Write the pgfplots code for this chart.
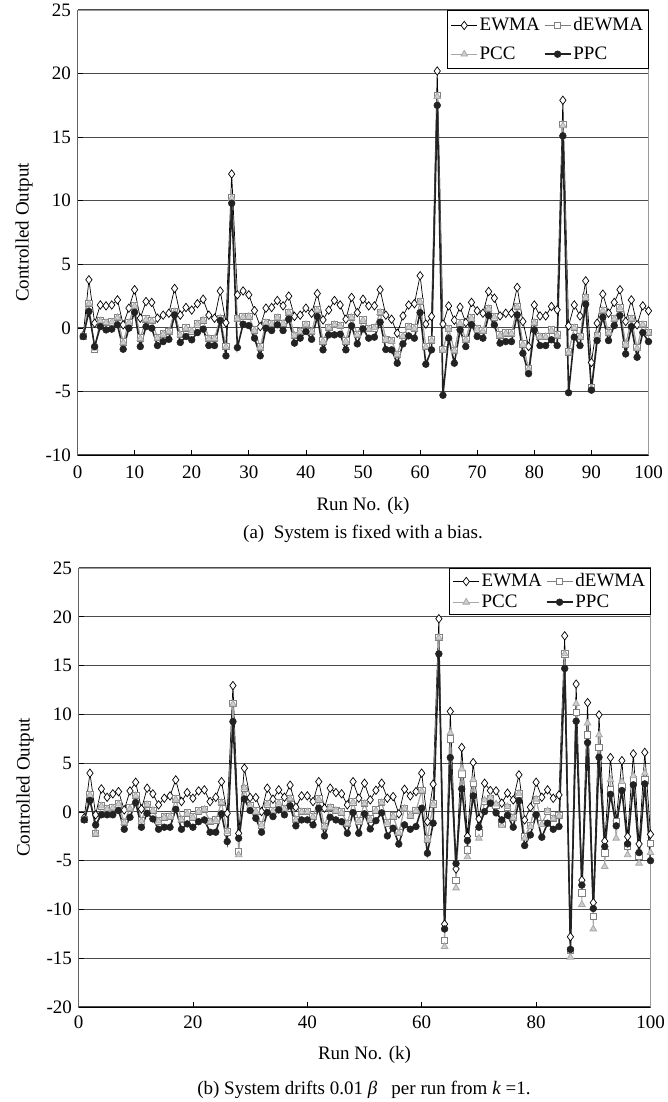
\documentclass[border=0pt]{standalone}
\usepackage{fontspec}
\setmainfont{Liberation Serif}
\usepackage{pgfplots}
\usepackage{pgfplotstable}
\pgfplotsset{compat=1.18}
\definecolor{gridc}{HTML}{4A4A4A}
\definecolor{boxc}{HTML}{9A9A9A}
\definecolor{dcol}{HTML}{808080}
\definecolor{tcol}{HTML}{A8A8A8}
\definecolor{tfill}{HTML}{CFCFCF}
\definecolor{pcol}{HTML}{222222}

\pgfplotstableread{
k E D T P
1 -0.60 -0.66 -0.66 -0.68
2 3.78 1.94 1.90 1.29
3 0.37 -1.68 -1.60 -1.47
4 1.80 0.61 0.55 0.10
5 1.73 0.41 0.41 -0.16
6 1.80 0.47 0.45 -0.10
7 2.20 0.83 0.80 0.24
8 0.24 -1.10 -1.15 -1.68
9 1.55 0.44 0.40 -0.03
10 3.00 1.76 1.70 1.23
11 0.76 -0.80 -0.85 -1.47
12 2.07 0.69 0.65 0.10
13 2.00 0.58 0.55 -0.03
14 0.76 -0.75 -0.80 -1.39
15 1.00 -0.46 -0.50 -1.08
16 1.15 -0.29 -0.30 -0.90
17 3.10 1.29 1.25 1.02
18 1.00 -0.51 -0.55 -1.15
19 1.60 0.00 -0.05 -0.68
20 1.40 -0.24 -0.25 -0.94
21 1.90 0.31 0.30 -0.37
22 2.25 0.61 0.60 -0.10
23 1.00 -0.81 -0.85 -1.39
24 0.76 -0.81 -0.85 -1.39
25 2.90 0.76 0.75 0.58
26 0.40 -1.47 -1.50 -2.20
27 12.10 10.25 10.20 9.80
28 2.60 0.76 0.70 -1.55
29 2.90 0.89 0.85 0.29
30 2.60 0.91 0.90 0.18
31 1.36 -0.16 -0.20 -0.81
32 0.10 -1.51 -1.55 -2.20
33 1.55 0.44 0.40 -0.03
34 1.60 0.33 0.30 -0.21
35 2.15 0.81 0.80 0.24
36 1.73 0.37 0.35 -0.21
37 2.50 1.23 1.20 0.68
38 0.90 -0.57 -0.60 -1.20
39 1.00 -0.27 -0.30 -0.81
40 1.55 0.26 0.25 -0.29
41 1.15 -0.29 -0.30 -0.90
42 2.70 1.43 1.40 0.89
43 0.63 -1.02 -1.05 -1.73
44 1.40 0.04 0.00 -0.55
45 2.15 0.26 0.25 -0.55
46 1.80 0.19 0.15 -0.50
47 0.68 -1.01 -1.05 -1.73
48 2.40 0.83 0.80 0.16
49 1.20 -0.52 -0.55 -1.26
50 2.25 0.62 0.60 -0.08
51 1.73 -0.05 -0.10 -0.81
52 1.73 0.01 0.00 -0.73
53 3.00 1.22 1.20 0.45
54 1.00 -0.89 -0.90 -1.70
55 0.68 -1.00 -1.05 -1.73
56 -0.42 -2.07 -2.10 -2.78
57 0.94 -0.60 -0.65 -1.26
58 1.80 0.10 0.05 -0.63
59 1.90 0.00 -0.05 -0.81
60 4.10 2.07 2.05 1.20
61 0.30 -1.47 -1.50 -2.86
62 0.90 -0.94 -1.00 -1.73
63 20.20 18.30 18.20 17.50
64 0.30 -1.70 -1.75 -5.30
65 1.73 -0.05 -0.10 -0.81
66 0.60 -1.77 -1.80 -2.78
67 1.63 0.38 0.35 -0.16
68 0.42 -0.90 -0.95 -1.47
69 2.00 0.77 0.75 0.24
70 1.34 -0.07 -0.10 -0.68
71 1.15 -0.22 -0.25 -0.81
72 2.86 1.54 1.50 0.97
73 2.34 0.87 0.85 0.24
74 0.94 -0.56 -0.60 -1.20
75 1.15 -0.41 -0.45 -1.08
76 1.15 -0.41 -0.45 -1.08
77 3.18 1.67 1.65 1.02
78 0.50 -1.25 -1.30 -2.00
79 -1.47 -3.20 -3.25 -3.60
80 1.80 0.43 0.40 -0.16
81 0.94 -0.69 -0.70 -1.39
82 0.94 -0.69 -0.70 -1.39
83 1.68 -0.15 -0.20 -0.94
84 1.42 -0.55 -0.60 -1.39
85 17.90 16.00 15.90 15.10
86 0.16 -1.90 -1.95 -5.10
87 1.80 0.03 0.00 -0.73
88 0.94 -0.69 -0.70 -1.39
89 3.70 2.41 2.40 1.86
90 -2.73 -4.70 -4.75 -4.90
91 0.37 -0.59 -0.60 -1.00
92 2.65 1.38 1.35 0.84
93 1.15 -0.36 -0.40 -1.00
94 2.00 0.73 0.70 0.18
95 3.00 1.58 1.55 0.97
96 0.50 -1.29 -1.30 -2.05
97 2.20 0.73 0.70 0.10
98 0.24 -1.55 -1.60 -2.31
99 1.73 0.26 0.25 -0.37
100 1.34 -0.35 -0.40 -1.08
}\dataA

\pgfplotstableread{
k E D T P
1 -0.60 -0.74 -0.75 -0.82
2 3.97 1.80 1.75 1.16
3 -0.30 -2.20 -2.25 -1.33
4 2.36 0.63 0.60 -0.30
5 1.50 0.33 0.30 -0.30
6 1.85 0.45 0.40 -0.30
7 2.08 0.82 0.80 0.14
8 0.20 -1.09 -1.10 -1.78
9 2.15 0.40 0.35 -0.55
10 3.04 1.69 1.65 0.96
11 0.30 -0.92 -0.95 -1.57
12 2.43 0.76 0.75 -0.14
13 1.85 0.18 0.15 -0.72
14 0.72 -0.91 -0.95 -1.78
15 1.40 -0.53 -0.55 -1.57
16 1.64 -0.45 -0.50 -1.57
17 3.28 1.32 1.30 0.27
18 1.06 -0.79 -0.80 -1.78
19 1.98 -0.11 -0.15 -1.23
20 1.40 -0.53 -0.55 -1.57
21 2.15 0.10 0.05 -1.00
22 2.26 0.26 0.25 -0.82
23 1.06 -0.98 -1.00 -2.08
24 1.50 -0.83 -0.85 -2.08
25 3.10 0.96 0.95 -0.20
26 -0.14 -2.03 -2.05 -3.04
27 12.95 11.10 11.05 9.26
28 -2.20 -4.07 -4.40 -2.70
29 4.48 2.43 2.45 1.33
30 1.47 0.61 0.60 0.14
31 1.47 0.09 0.05 -0.65
32 0.03 -1.34 -1.35 -2.08
33 2.43 0.81 0.80 -0.07
34 1.30 0.14 0.10 -0.48
35 2.26 0.92 0.90 0.20
36 1.50 0.33 0.30 -0.30
37 2.74 1.36 1.35 0.62
38 0.48 -0.76 -0.80 -1.43
39 1.64 0.04 0.00 -0.82
40 1.64 0.04 0.00 -0.82
41 1.06 -0.49 -0.50 -1.33
42 3.10 1.33 1.30 0.38
43 0.38 -1.47 -1.50 -2.46
44 2.43 0.49 0.45 -0.55
45 1.98 0.16 0.15 -0.82
46 1.85 0.00 -0.05 -1.00
47 0.72 -1.17 -1.20 -2.19
48 3.10 1.04 1.00 -0.07
49 1.40 -0.93 -0.95 -2.19
50 2.94 0.90 0.85 -0.20
51 1.23 -0.71 -0.75 -1.75
52 2.22 0.19 0.15 -0.90
53 2.94 0.96 0.95 -0.10
54 1.40 -1.11 -1.15 -2.46
55 1.57 -0.40 -0.45 -1.67
56 -0.20 -2.10 -2.15 -3.30
57 2.32 0.38 0.35 -1.33
58 1.64 -0.30 -0.35 -1.78
59 2.08 0.14 0.10 -1.50
60 3.97 2.19 2.15 0.38
61 -1.00 -2.77 -2.80 -4.24
62 2.84 0.82 0.80 -1.16
63 19.80 17.90 17.85 16.20
64 -11.50 -13.20 -13.80 -12.00
65 10.30 7.50 8.10 5.57
66 -5.85 -7.00 -7.80 -5.30
67 6.60 3.90 4.40 2.36
68 -2.50 -3.90 -4.60 -2.94
69 5.06 2.90 3.30 1.64
70 -0.72 -2.15 -2.70 -1.57
71 2.94 1.05 1.20 0.03
72 2.19 1.35 1.50 0.90
73 2.15 0.69 0.80 -0.10
74 0.90 -1.30 -1.40 -0.82
75 1.92 0.45 0.55 -0.34
76 1.23 -0.59 -0.60 -1.57
77 3.80 1.85 1.90 1.13
78 -0.82 -2.53 -2.70 -3.45
79 0.48 -1.37 -1.50 -2.36
80 3.04 1.23 1.30 -0.30
81 1.50 -1.17 -1.30 -2.60
82 2.26 0.04 0.10 -1.16
83 1.40 -0.67 -0.70 -1.78
84 1.74 -0.37 -0.40 -1.50
85 18.05 16.20 16.20 14.70
86 -12.80 -14.20 -14.90 -14.10
87 13.10 10.20 11.10 9.30
88 -7.00 -8.30 -9.50 -7.50
89 11.20 7.90 9.10 7.10
90 -9.30 -10.70 -12.00 -9.90
91 9.95 6.60 7.90 5.60
92 -3.00 -4.20 -5.60 -3.55
93 5.57 2.26 3.30 1.80
94 -0.92 -1.00 -2.70 -1.43
95 5.26 2.60 3.10 2.19
96 -2.53 -3.50 -4.40 -3.28
97 5.95 3.30 3.70 2.77
98 -3.28 -4.50 -5.26 -4.17
99 6.10 3.28 3.97 2.87
100 -2.30 -3.20 -4.17 -5.00
}\dataB

\pgfplotsset{
  panel/.style={
    scale only axis,
    xmin=0, xmax=100,
    axis line style={draw=boxc, line width=0.8pt},
    ymajorgrids,
    grid style={draw=gridc, line width=1.1pt},
    tick align=inside,
    xtick pos=bottom, ytick pos=left,
    major tick length=5pt,
    tick style={black, line width=0.7pt},
    /pgf/number format/assume math mode=true,
    ticklabel style={font=\fontsize{19}{22}\selectfont},
    label style={font=\fontsize{19}{22}\selectfont},
    xlabel={Run No. (k)},
    ylabel={Controlled Output},
    legend style={at={(1,1)}, anchor=north east, legend columns=2,
      draw=black, line width=0.9pt, fill=white,
      font=\fontsize{19}{22}\selectfont,
      inner xsep=3pt,
      /tikz/every even column/.append style={column sep=2pt}},
    legend cell align=left,
    legend image code/.code={%
      \draw[mark repeat=2, mark phase=2] plot coordinates {(0pt,0pt) (13pt,0pt) (26pt,0pt)};},
  },
  ewma/.style={draw=black, line width=0.7pt, mark=diamond*, mark size=4.2pt,
    mark options={fill=white, draw=black, line width=0.7pt}},
  dewma/.style={draw=dcol, line width=0.8pt, mark=square*, mark size=3.2pt,
    mark options={fill=white, draw=dcol, line width=0.8pt}},
  pcc/.style={draw=tcol, line width=0.8pt, mark=triangle*, mark size=3.8pt,
    mark options={fill=tfill, draw=tcol, line width=0.8pt}},
  ppc/.style={draw=pcol, line width=1.6pt, mark=*, mark size=3.4pt,
    mark options={fill=pcol, draw=pcol, line width=0.5pt}},
}

\begin{document}
\fontsize{19}{22}\selectfont
\begin{tikzpicture}
\useasboundingbox (0pt,0pt) rectangle (668pt,-1102pt);

\begin{axis}[panel, at={(77.5pt,-455pt)}, anchor=south west,
  width=571pt, height=445pt,
  ymin=-10, ymax=25, ytick={-10,-5,...,25},
  xtick={0,10,...,100},
  xticklabel style={yshift=-4pt},
  xlabel style={yshift=-6pt},
  legend style={row sep=9pt, inner ysep=5pt}]
\addplot[ewma] table[x=k, y=E] {\dataA};
\addplot[dewma] table[x=k, y=D] {\dataA};
\addplot[pcc] table[x=k, y=T] {\dataA};
\addplot[ppc] table[x=k, y=P] {\dataA};
\legend{EWMA, dEWMA, PCC, PPC}
\draw[black, line width=0.9pt] (rel axis cs:0,1) -- (rel axis cs:0,0) -- (rel axis cs:1,0);
\end{axis}
\node[font=\fontsize{19}{22}\selectfont] at (363pt,-534pt) {(a)\ \ System is fixed with a bias.};

\begin{axis}[panel, at={(78.5pt,-1007pt)}, anchor=south west,
  width=572pt, height=439pt,
  ymin=-20, ymax=25, ytick={-20,-15,...,25},
  xtick={0,20,...,100},
  xticklabel style={yshift=-2pt},
  xlabel style={yshift=-5pt},
  legend style={row sep=1pt, inner ysep=3pt}]
\addplot[ewma] table[x=k, y=E] {\dataB};
\addplot[dewma] table[x=k, y=D] {\dataB};
\addplot[pcc] table[x=k, y=T] {\dataB};
\addplot[ppc] table[x=k, y=P] {\dataB};
\legend{EWMA, dEWMA, PCC, PPC}
\draw[black, line width=0.9pt] (rel axis cs:0,1) -- (rel axis cs:0,0) -- (rel axis cs:1,0);
\end{axis}
\node[font=\fontsize{19}{22}\selectfont] at (364pt,-1090pt) {(b) System drifts 0.01 \textit{β}\ \ \ per run from \textit{k} =1.};
\end{tikzpicture}
\end{document}
